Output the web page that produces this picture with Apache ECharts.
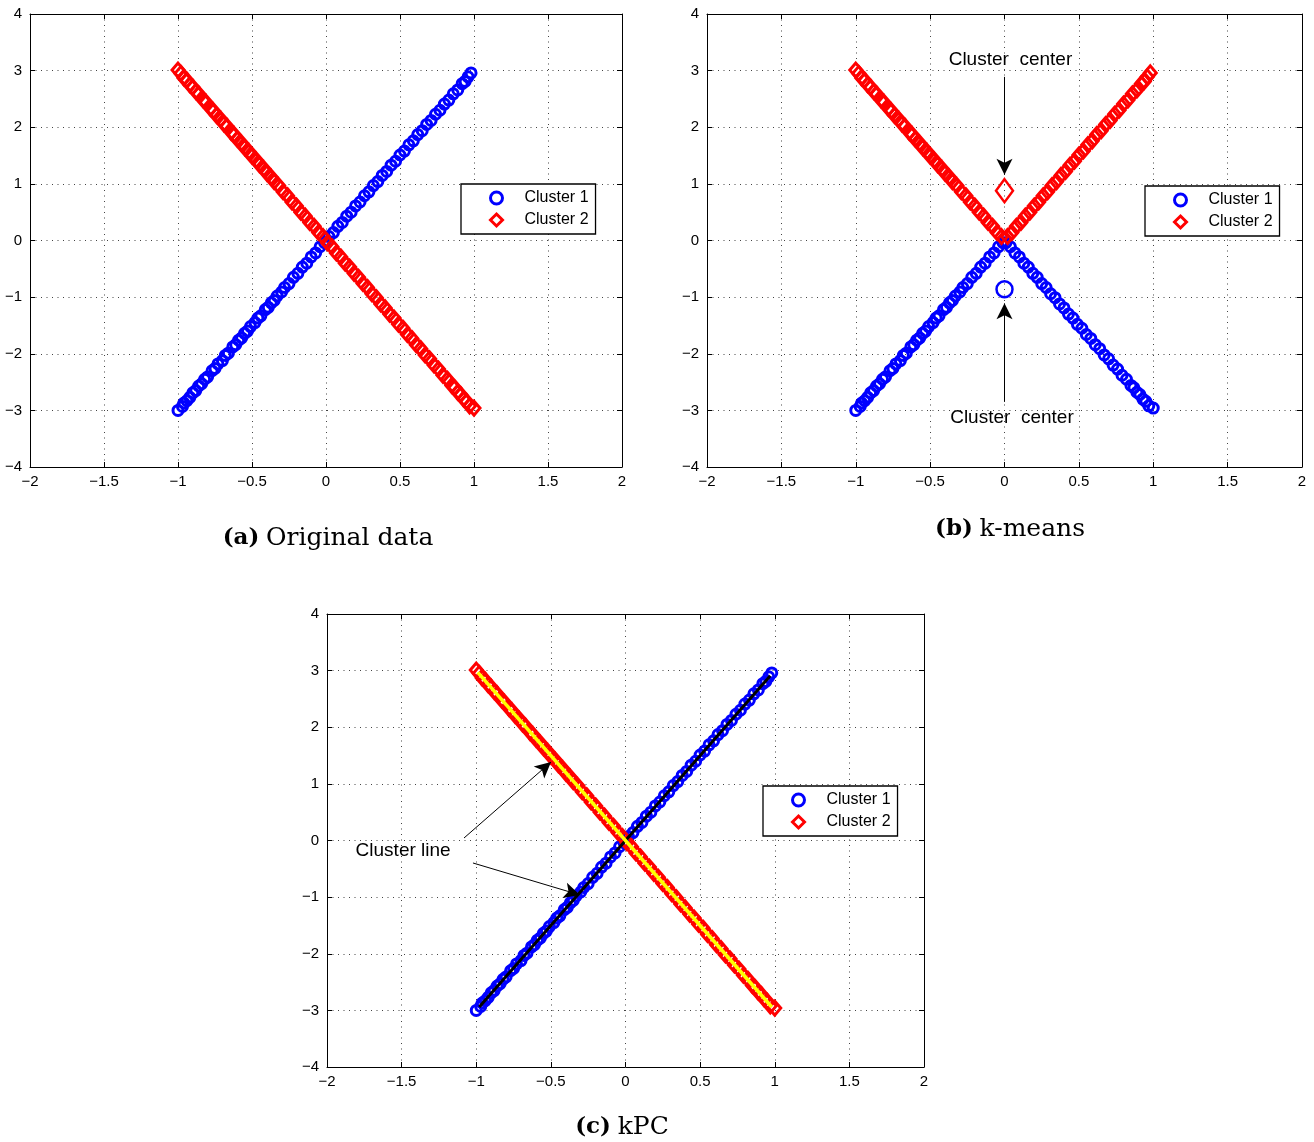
<!DOCTYPE html>
<html><head><meta charset="utf-8">
<script src="https://cdn.jsdelivr.net/npm/echarts@6/dist/echarts.min.js"></script>
<style>html,body{margin:0;padding:0;background:#fff}#c{width:1314px;height:1142px}</style>
</head><body><div id="c"></div>
<script>
// ---- data ----
const blueX = [-1.00,-0.97,-0.96,-0.94,-0.92,-0.90,-0.88,-0.86,-0.84,-0.82,-0.80,-0.77,-0.75,-0.73,-0.70,-0.68,-0.66,-0.63,-0.61,-0.59,-0.57,-0.55,-0.53,-0.51,-0.48,-0.46,-0.44,-0.41,-0.39,-0.37,-0.35,-0.33,-0.30,-0.28,-0.25,-0.22,-0.19,-0.16,-0.13,-0.10,-0.07,-0.04,-0.01,0.02,0.05,0.08,0.11,0.14,0.17,0.20,0.23,0.26,0.29,0.32,0.35,0.38,0.41,0.44,0.47,0.50,0.53,0.56,0.59,0.62,0.65,0.68,0.71,0.74,0.77,0.80,0.83,0.86,0.89,0.92,0.94,0.96,0.98];
const blueY = [-3.00,-2.93,-2.87,-2.83,-2.77,-2.69,-2.65,-2.57,-2.53,-2.45,-2.41,-2.30,-2.26,-2.18,-2.12,-2.03,-1.99,-1.88,-1.84,-1.76,-1.72,-1.64,-1.60,-1.52,-1.45,-1.37,-1.33,-1.22,-1.18,-1.10,-1.06,-0.98,-0.91,-0.83,-0.76,-0.65,-0.58,-0.47,-0.40,-0.29,-0.22,-0.11,-0.04,0.07,0.14,0.25,0.32,0.43,0.50,0.61,0.68,0.79,0.86,0.97,1.04,1.15,1.22,1.33,1.40,1.51,1.58,1.69,1.76,1.87,1.94,2.05,2.12,2.23,2.30,2.41,2.48,2.59,2.66,2.77,2.81,2.89,2.96];
const redX = [-1.00,-0.98,-0.96,-0.94,-0.92,-0.90,-0.88,-0.86,-0.83,-0.81,-0.78,-0.76,-0.74,-0.71,-0.69,-0.67,-0.64,-0.62,-0.60,-0.57,-0.55,-0.52,-0.50,-0.47,-0.45,-0.42,-0.40,-0.37,-0.35,-0.32,-0.29,-0.26,-0.23,-0.20,-0.17,-0.14,-0.11,-0.08,-0.05,-0.02,0.01,0.04,0.07,0.10,0.13,0.16,0.19,0.22,0.25,0.28,0.31,0.34,0.37,0.40,0.43,0.46,0.49,0.52,0.55,0.58,0.61,0.64,0.67,0.70,0.73,0.76,0.79,0.82,0.85,0.87,0.89,0.91,0.93,0.95,0.97,1.00];
const redY = [3.01,2.95,2.87,2.83,2.75,2.71,2.63,2.59,2.48,2.44,2.33,2.29,2.21,2.14,2.06,2.02,1.91,1.87,1.79,1.72,1.64,1.57,1.49,1.42,1.34,1.27,1.19,1.12,1.04,0.97,0.86,0.79,0.68,0.61,0.50,0.43,0.32,0.25,0.14,0.07,-0.04,-0.11,-0.22,-0.29,-0.40,-0.47,-0.58,-0.65,-0.76,-0.83,-0.94,-1.01,-1.12,-1.19,-1.30,-1.37,-1.48,-1.55,-1.66,-1.73,-1.84,-1.91,-2.02,-2.09,-2.20,-2.27,-2.38,-2.45,-2.56,-2.60,-2.68,-2.72,-2.80,-2.84,-2.92,-2.96];
// k-means centers (cluster 1, cluster 2)
const centerX = [0, 0];
const centerY = [-0.86, 0.88];
// kPC cluster lines
const line1X = [-0.98, 0.97];
const line1Y = [-2.94, 2.91];
const line2X = [-0.99, 0.98];
const line2Y = [2.97, -2.94];
// axes
const xMin = -2, xMax = 2, xStep = 0.5;
const yMin = -4, yMax = 4, yStep = 1;
const seriesNames = ['Cluster 1', 'Cluster 2'];
const captions = [['(a)', 'Original data'], ['(b)', 'k-means'], ['(c)', 'kPC']];
const annCenter = 'Cluster  center';
const annLine = 'Cluster line';

// ---- build ----
const zip = (xs, ys) => xs.map((x, i) => [x, ys[i]]);
const bluePts = zip(blueX, blueY);
const redPts = zip(redX, redY);
const allPts = bluePts.concat(redPts);
const kmC1 = allPts.filter(p => p[1] < 0);
const kmC2 = allPts.filter(p => p[1] >= 0);

const BLUE = '#0000ff', RED = '#ff0000';
const fmt = v => String(v).replace('-', '\u2212');
const tickFont = { fontFamily: 'Liberation Sans, Arial, sans-serif', fontSize: 15, color: '#000' };

const grids = [
  { left: 30, top: 14, width: 592, height: 453 },
  { left: 707, top: 14, width: 595, height: 453 },
  { left: 327, top: 614, width: 597, height: 453 }
];
const xAxes = [], yAxes = [];
grids.forEach((g, gi) => {
  const common = { type: 'value', gridIndex: gi, min: xMin, max: xMax, interval: xStep,
    axisLine: { show: true, onZero: false, lineStyle: { color: '#000', width: 1 } },
    axisTick: { show: true, inside: true, length: 5, lineStyle: { color: '#000' } } };
  xAxes.push(Object.assign({}, common, { position: 'bottom',
    axisLabel: Object.assign({ show: true, margin: 7, formatter: fmt }, tickFont),
    splitLine: { show: true, lineStyle: { type: [1, 4.5], color: '#444', width: 1 } } }));
  xAxes.push(Object.assign({}, common, { position: 'top', axisLabel: { show: false }, splitLine: { show: false } }));
  const cy = { type: 'value', gridIndex: gi, min: yMin, max: yMax, interval: yStep,
    axisLine: { show: true, onZero: false, lineStyle: { color: '#000', width: 1 } },
    axisTick: { show: true, inside: true, length: 5, lineStyle: { color: '#000' } } };
  yAxes.push(Object.assign({}, cy, { position: 'left',
    axisLabel: Object.assign({ show: true, margin: 8, formatter: fmt }, tickFont),
    splitLine: { show: true, lineStyle: { type: [1, 4.5], color: '#444', width: 1 } } }));
  yAxes.push(Object.assign({}, cy, { position: 'right', axisLabel: { show: false }, splitLine: { show: false } }));
});

const circ = (size, bw) => ({ symbol: 'circle', symbolSize: size,
  itemStyle: { color: 'rgba(255,255,255,0)', borderColor: BLUE, borderWidth: bw, opacity: 1 } });
const diam = (size, bw) => ({ symbol: 'diamond', symbolSize: size,
  itemStyle: { color: 'rgba(255,255,255,0)', borderColor: RED, borderWidth: bw, opacity: 1 } });

const sc = (gi, name, data, sty, extra) => Object.assign({ type: 'scatter', name: name,
  xAxisIndex: gi * 2, yAxisIndex: gi * 2, data: data, silent: true, z: 3 }, sty, extra || {});

const arrowML = (segs) => ({ silent: true, symbol: ['none', 'arrow'], symbolSize: [12, 16],
  label: { show: false }, lineStyle: { color: '#000', width: 1, type: 'solid', opacity: 1 },
  emphasis: { disabled: true },
  data: segs.map(s => [{ coord: [s[0], s[1]] }, { coord: [s[2], s[3]] }]) });
const textMP = (items) => ({ silent: true, symbol: 'circle', symbolSize: 1,
  itemStyle: { color: 'rgba(0,0,0,0)', borderWidth: 0 },
  label: { show: true, position: 'inside', color: '#000', fontSize: 19,
    fontFamily: 'Liberation Sans, Arial, sans-serif', formatter: p => p.name },
  data: items.map(t => ({ name: t[0], coord: [t[1], t[2]] })) });

const series = [
  sc(0, seriesNames[0], bluePts, circ(10, 3)),
  sc(0, seriesNames[1], redPts, diam([12, 14], 3)),
  sc(1, seriesNames[0], kmC1, circ(10, 3)),
  sc(1, seriesNames[1], kmC2, diam([12, 14], 3), {
    markLine: arrowML([[0, 2.89, 0, 1.16], [0, -2.85, 0, -1.11]]),
    markPoint: textMP([[annCenter, 0.04, 3.19], [annCenter, 0.05, -3.13]]) }),
  sc(1, seriesNames[0], [[centerX[0], centerY[0]]], circ(16, 2.5), { z: 4 }),
  sc(1, seriesNames[1], [[centerX[1], centerY[1]]], diam([17, 23], 2.5), { z: 4 }),
  sc(2, seriesNames[0], bluePts, circ(10, 3)),
  sc(2, seriesNames[1], redPts, diam([12, 14], 3), {
    markLine: arrowML([[-1.082, 0.044, -0.499, 1.386], [-1.022, -0.397, -0.305, -0.962]]),
    markPoint: textMP([[annLine, -1.49, -0.18]]) }),
  { type: 'line', xAxisIndex: 4, yAxisIndex: 4, data: zip(line1X, line1Y), symbol: 'none', silent: true, z: 5,
    lineStyle: { color: '#000', width: 3 } },
  { type: 'line', xAxisIndex: 4, yAxisIndex: 4, data: zip(line2X, line2Y), symbol: 'none', silent: true, z: 5,
    lineStyle: { color: '#ffff00', width: 3.5 } }
];

const legendPos = [[461, 184], [1145, 186], [763, 786]];
const legends = legendPos.map(p => ({
  left: p[0], top: p[1], orient: 'vertical', data: seriesNames,
  itemWidth: 12, itemHeight: 12, itemGap: 6, selectedMode: false,
  padding: [6, 7, 6, 28], borderColor: '#000', borderWidth: 1.3, backgroundColor: '#fff',
  textStyle: { fontFamily: 'Liberation Sans, Arial, sans-serif', fontSize: 16, color: '#000', padding: [0, 0, 0, 17] },
  itemStyle: { borderWidth: 3 }
}));

const capPos = [[328, 538], [1010, 529], [622, 1127]];
const graphic = captions.map((c, i) => ({
  type: 'text', x: capPos[i][0], y: capPos[i][1],
  style: { text: '{b|' + c[0] + '}  {n|' + c[1] + '}', align: 'center', verticalAlign: 'middle',
    rich: { b: { fontFamily: 'DejaVu Serif', fontWeight: 'bold', fontSize: 23, fill: '#000' },
            n: { fontFamily: 'DejaVu Serif', fontSize: 25, fill: '#000' } } }
}));

const chart = echarts.init(document.getElementById('c'), null, { renderer: 'canvas' });
chart.setOption({
  animation: false, backgroundColor: '#fff',
  grid: grids, xAxis: xAxes, yAxis: yAxes, legend: legends, series: series, graphic: graphic
});
</script></body></html>
